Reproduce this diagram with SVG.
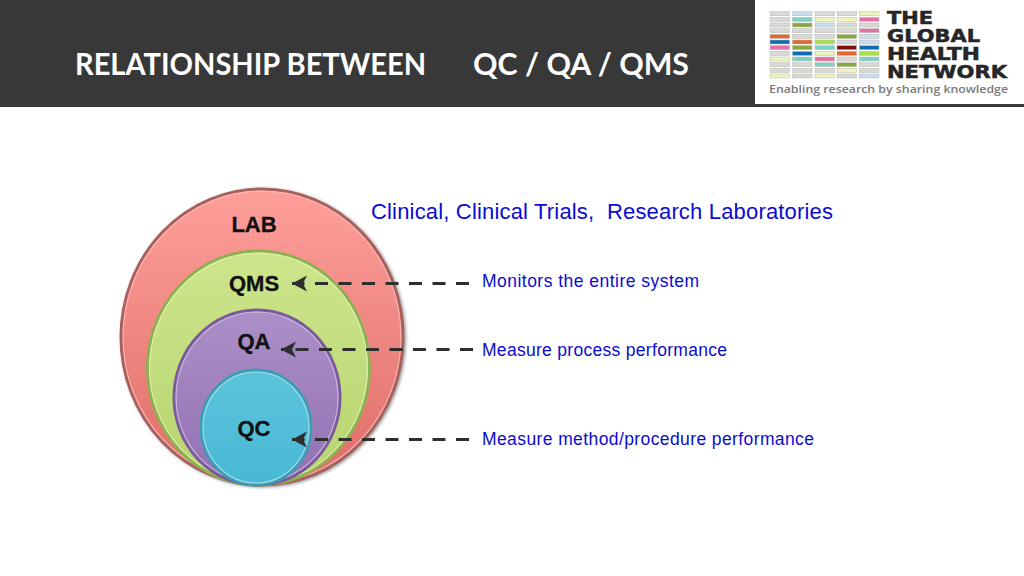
<svg xmlns="http://www.w3.org/2000/svg" width="1024" height="576" viewBox="0 0 1024 576">
<style>
.t{font-family:Lato,"Liberation Sans",sans-serif;font-weight:700;font-size:30px;fill:#fff}
.b{font-family:"Liberation Sans",Arial,sans-serif;fill:#0b0bd0}
.n{font-family:"Liberation Sans",Arial,sans-serif;font-weight:700;font-size:22px;fill:#111;text-anchor:middle;stroke:#111;stroke-width:.3}
.c{stroke-width:3}
.r{fill:none;stroke-width:1.2;stroke-opacity:.75}
.d{fill:none;stroke:#2e2e2e;stroke-width:3.2;stroke-dasharray:13 10.500;marker-end:url(#ah)}
.g{fill:#d8d8d4;stroke:#b8b8b0;stroke-width:.5}.lb{fill:#c9ddee}.ly{fill:#eef2bd}.te{fill:#7fcfc4}.pk{fill:#e56fa8}.gr{fill:#86a83c}.or{fill:#e4682a}.bl{fill:#0f6cb4}.li{fill:#a6e04c}.dr{fill:#7c0d0d}
.lg{font-family:"DejaVu Sans",sans-serif;font-weight:700;font-size:17px;fill:#262626;stroke:#262626;stroke-width:.5}
</style>
<defs>
<linearGradient id="gl" x1="0" y1="0" x2="0" y2="1"><stop offset="0" stop-color="#ff9f9a"/><stop offset=".5" stop-color="#ee8681"/><stop offset="1" stop-color="#e06c68"/></linearGradient>
<linearGradient id="gm" x1="0" y1="0" x2="0" y2="1"><stop offset="0" stop-color="#cde58c"/><stop offset="1" stop-color="#b6d46e"/></linearGradient>
<linearGradient id="ga" x1="0" y1="0" x2="0" y2="1"><stop offset="0" stop-color="#ac90c8"/><stop offset="1" stop-color="#9270b3"/></linearGradient>
<linearGradient id="gc" x1="0" y1="0" x2="0" y2="1"><stop offset="0" stop-color="#5cc4db"/><stop offset="1" stop-color="#48b8d4"/></linearGradient>
<filter id="sh" x="-5%" y="-5%" width="110%" height="110%"><feDropShadow dx="1.500" dy="1" stdDeviation="1.500" flood-color="#444" flood-opacity=".55"/></filter>
<marker id="ah" markerUnits="userSpaceOnUse" markerWidth="18" markerHeight="18" refX="16" refY="9" orient="auto"><path d="M1 1 L16 9 L1 17 L5 9 Z" fill="#2e2e2e"/></marker>
</defs>
<rect width="1024" height="576" fill="#fff"/>
<g id="header">
<rect width="1024" height="107" fill="#383838"/>
<rect x="755" y="0" width="269" height="104" fill="#fff"/>
<text class="t" x="75" y="75" textLength="351" lengthAdjust="spacingAndGlyphs">RELATIONSHIP BETWEEN</text>
<text class="t" x="473" y="75" textLength="216" lengthAdjust="spacingAndGlyphs">QC / QA / QMS</text>
</g>
<g id="logo">
<g id="logo-bars">
<rect class="g" x="770" y="11.7" width="19.5" height="4"/><rect class="g lb" x="792.5" y="11.7" width="19.5" height="4"/><rect class="g" x="815" y="11.7" width="19.5" height="4"/><rect class="g" x="837" y="11.7" width="19.5" height="4"/><rect class="g ly" x="859.5" y="11.7" width="19.5" height="4"/>
<rect class="g" x="770" y="17.4" width="19.5" height="4"/><rect class="g te" x="792.5" y="17.4" width="19.5" height="4"/><rect class="g ly" x="815" y="17.4" width="19.5" height="4"/><rect class="g ly" x="837" y="17.4" width="19.5" height="4"/><rect class="g pk" x="859.5" y="17.4" width="19.5" height="4"/>
<rect class="g" x="770" y="23" width="19.5" height="4"/><rect class="g gr" x="792.5" y="23" width="19.5" height="4"/><rect class="g lb" x="815" y="23" width="19.5" height="4"/><rect class="g" x="837" y="23" width="19.5" height="4"/><rect class="g" x="859.5" y="23" width="19.5" height="4"/>
<rect class="g" x="770" y="28.7" width="19.5" height="4"/><rect class="g" x="792.5" y="28.7" width="19.5" height="4"/><rect class="g" x="815" y="28.7" width="19.5" height="4"/><rect class="g" x="837" y="28.7" width="19.5" height="4"/><rect class="g pk" x="859.5" y="28.7" width="19.5" height="4"/>
<rect class="g or" x="770" y="34.4" width="19.5" height="4"/><rect class="g" x="792.5" y="34.4" width="19.5" height="4"/><rect class="g" x="815" y="34.4" width="19.5" height="4"/><rect class="g gr" x="837" y="34.4" width="19.5" height="4"/><rect class="g lb" x="859.5" y="34.4" width="19.5" height="4"/>
<rect class="g bl" x="770" y="40" width="19.5" height="4"/><rect class="g or" x="792.5" y="40" width="19.5" height="4"/><rect class="g li" x="815" y="40" width="19.5" height="4"/><rect class="g" x="837" y="40" width="19.5" height="4"/><rect class="g lb" x="859.5" y="40" width="19.5" height="4"/>
<rect class="g pk" x="770" y="45.7" width="19.5" height="4"/><rect class="g gr" x="792.5" y="45.7" width="19.5" height="4"/><rect class="g te" x="815" y="45.7" width="19.5" height="4"/><rect class="g dr" x="837" y="45.7" width="19.5" height="4"/><rect class="g bl" x="859.5" y="45.7" width="19.5" height="4"/>
<rect class="g" x="770" y="51.4" width="19.5" height="4"/><rect class="g bl" x="792.5" y="51.4" width="19.5" height="4"/><rect class="g ly" x="815" y="51.4" width="19.5" height="4"/><rect class="g or" x="837" y="51.4" width="19.5" height="4"/><rect class="g li" x="859.5" y="51.4" width="19.5" height="4"/>
<rect class="g ly" x="770" y="57" width="19.5" height="4"/><rect class="g te" x="792.5" y="57" width="19.5" height="4"/><rect class="g pk" x="815" y="57" width="19.5" height="4"/><rect class="g" x="837" y="57" width="19.5" height="4"/><rect class="g te" x="859.5" y="57" width="19.5" height="4"/>
<rect class="g" x="770" y="62.7" width="19.5" height="4"/><rect class="g" x="792.5" y="62.7" width="19.5" height="4"/><rect class="g te" x="815" y="62.7" width="19.5" height="4"/><rect class="g gr" x="837" y="62.7" width="19.5" height="4"/><rect class="g" x="859.5" y="62.7" width="19.5" height="4"/>
<rect class="g" x="770" y="68.4" width="19.5" height="4"/><rect class="g" x="792.5" y="68.4" width="19.5" height="4"/><rect class="g" x="815" y="68.4" width="19.5" height="4"/><rect class="g ly" x="837" y="68.4" width="19.5" height="4"/><rect class="g" x="859.5" y="68.4" width="19.5" height="4"/>
<rect class="g ly" x="770" y="74" width="19.5" height="4"/><rect class="g" x="792.5" y="74" width="19.5" height="4"/><rect class="g ly" x="815" y="74" width="19.5" height="4"/><rect class="g" x="837" y="74" width="19.5" height="4"/><rect class="g lb" x="859.5" y="74" width="19.5" height="4"/>
</g>
<text class="lg" x="887" y="24" textLength="46" lengthAdjust="spacingAndGlyphs">THE</text>
<text class="lg" x="887" y="42" textLength="93" lengthAdjust="spacingAndGlyphs">GLOBAL</text>
<text class="lg" x="887" y="60" textLength="93" lengthAdjust="spacingAndGlyphs">HEALTH</text>
<text class="lg" x="887" y="78" textLength="120" lengthAdjust="spacingAndGlyphs">NETWORK</text>
<text x="769" y="93" font-family="'Open Sans',sans-serif" font-weight="600" font-size="11px" fill="#7a7a7a" textLength="239" lengthAdjust="spacingAndGlyphs">Enabling research by sharing knowledge</text>
</g>
<g id="lab"><ellipse class="c" cx="262" cy="337" rx="141" ry="148" fill="url(#gl)" stroke="#a8605e" filter="url(#sh)"/><ellipse class="r" cx="262" cy="337" rx="139" ry="146" stroke="#ffc4c0"/><text class="n" x="254" y="232">LAB</text></g>
<g id="qms"><ellipse class="c" cx="258.500" cy="368" rx="111" ry="117" fill="url(#gm)" stroke="#8fb04f"/><ellipse class="r" cx="258.500" cy="368" rx="109" ry="115" stroke="#e6f4bf"/><text class="n" x="254" y="291">QMS</text></g>
<g id="qa"><ellipse class="c" cx="257" cy="397.500" rx="83" ry="87.500" fill="url(#ga)" stroke="#7b5a9c"/><ellipse class="r" cx="257" cy="397.500" rx="81" ry="85.500" stroke="#d9c8e8"/><text class="n" x="254" y="349">QA</text></g>
<g id="qc"><ellipse class="c" cx="256" cy="427.500" rx="55" ry="57.500" fill="url(#gc)" stroke="#3e9db5"/><ellipse class="r" cx="256" cy="427.500" rx="53" ry="55.500" stroke="#b8e8f2"/><text class="n" x="254" y="436">QC</text></g>
<g id="connectors">
<line class="d" x1="469" y1="283.500" x2="292" y2="283.500"/>
<line class="d" x1="473" y1="349.500" x2="281" y2="349.500"/>
<line class="d" x1="469" y1="439.500" x2="292" y2="439.500"/>
</g>
<g id="labels">
<text class="b" x="371" y="219" font-size="22px" xml:space="preserve" textLength="462" lengthAdjust="spacing">Clinical, Clinical Trials,  Research Laboratories</text>
<text class="b" x="482" y="287" font-size="17.500px" textLength="217" lengthAdjust="spacing">Monitors the entire system</text>
<text class="b" x="482" y="356" font-size="17.500px" textLength="245" lengthAdjust="spacing">Measure process performance</text>
<text class="b" x="482" y="445" font-size="17.500px" textLength="332" lengthAdjust="spacing">Measure method/procedure performance</text>
</g>
</svg>
